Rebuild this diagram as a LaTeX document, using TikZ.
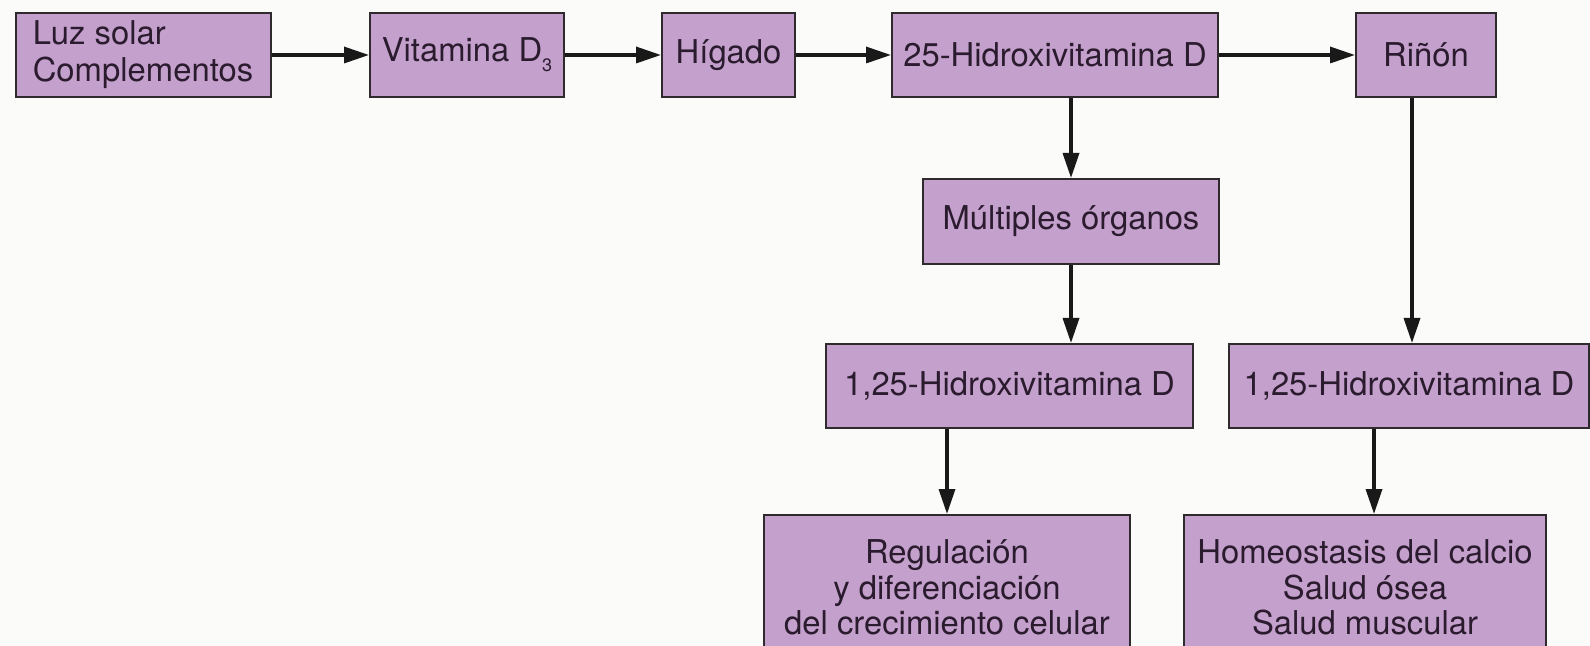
\documentclass[tikz,border=0pt]{standalone}
\usepackage{fontspec}
\setmainfont{TeX Gyre Heros}
\usetikzlibrary{arrows.meta}
\definecolor{boxfill}{HTML}{C4A0CC}
\definecolor{boxline}{HTML}{2E2A2E}
\definecolor{txt}{HTML}{2B1B2E}
\definecolor{bg}{HTML}{FBFBF9}
\tikzset{
  box/.style={draw=boxline, fill=boxfill, line width=1pt, inner sep=0pt,
    text=txt, align=center, font=\fontsize{16.4}{17.8}\selectfont},
  arr/.style={draw=black!90, line width=1.7pt, -{Triangle[length=12.5pt,width=8pt]}}
}
\begin{document}
\begin{tikzpicture}[x=0.5pt,y=-0.5pt]
\useasboundingbox (0,0) rectangle (1590,646);
\clip (0,0) rectangle (1590,646);
\fill[bg] (0,0) rectangle (1590,646);
% top row
\node[box, minimum width=127.5pt, minimum height=42pt, align=left,
      font=\fontsize{16.4}{18.5}\selectfont] (luz) at (143,55) {Luz solar\\Complementos};
\node[box, minimum width=97pt, minimum height=42pt] (vit) at (467,55) {Vitamina D\raisebox{-0.6ex}{\fontsize{9}{9}\selectfont 3}};
\node[box, minimum width=66.5pt, minimum height=42pt] (hig) at (728.5,55) {Hígado};
\node[box, minimum width=163pt, minimum height=42pt] (h25) at (1055,55) {25-Hidroxivitamina D};
\node[box, minimum width=70pt, minimum height=42pt] (rin) at (1426,55) {Riñón};
% middle
\node[box, minimum width=148pt, minimum height=42.5pt] (mult) at (1071,221.5) {Múltiples órganos};
\node[box, minimum width=183.5pt, minimum height=42pt] (da) at (1009.5,386) {1,25-Hidroxivitamina D};
\node[box, minimum width=180pt, minimum height=42pt] (db) at (1409,386) {1,25-Hidroxivitamina D};
% bottom
\node[box, minimum width=183pt, minimum height=72.5pt] (reg) at (947,587.5)
  {Regulación\\y diferenciación\\del crecimiento celular};
\node[box, minimum width=181pt, minimum height=72.5pt] (hom) at (1365,587.5)
  {Homeostasis del calcio\\Salud ósea\\Salud muscular};
% connectors
\draw[arr] (luz) -- (vit);
\draw[arr] (vit) -- (hig);
\draw[arr] (hig) -- (h25);
\draw[arr] (h25) -- (rin);
\draw[arr] (h25.south -| mult.north) -- (mult.north);
\draw[arr] (mult.south) -- (mult.south |- da.north);
\draw[arr] ([xshift=1.5pt]rin.south -| db.north) -- ([xshift=1.5pt]db.north);
\draw[arr] (da.south -| reg.north) -- (reg.north);
\draw[arr] ([xshift=4.5pt]hom.north |- db.south) -- ([xshift=4.5pt]hom.north);
\end{tikzpicture}
\end{document}
